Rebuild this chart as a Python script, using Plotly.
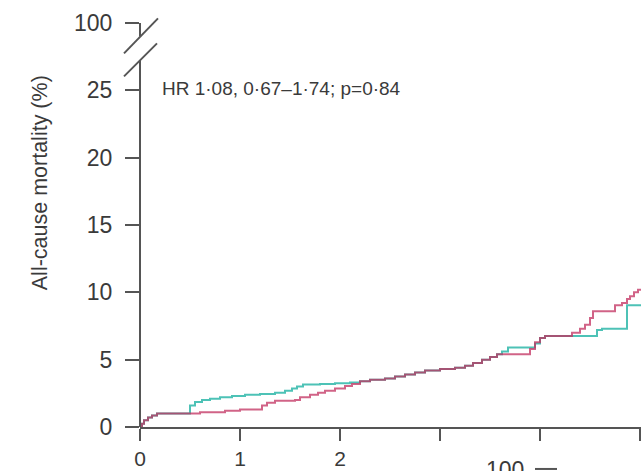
import plotly.graph_objects as go

# Time (years) and cumulative all-cause mortality (%)
teal_t = [0, 0.02, 0.04, 0.08, 0.12, 0.17, 0.5, 0.55, 0.62, 0.7, 0.8, 0.92, 1.05, 1.2, 1.35,
          1.45, 1.52, 1.57, 1.63, 1.8, 1.95, 2.1, 2.2, 2.3, 2.45, 2.55, 2.65, 2.75, 2.85,
          3.0, 3.15, 3.25, 3.33, 3.42, 3.5, 3.57, 3.62, 3.68, 3.95, 4.0, 4.05, 4.57, 4.62,
          4.87, 5.02]
teal_v = [0, 0.25, 0.5, 0.7, 0.85, 1.0, 1.6, 1.85, 2.0, 2.1, 2.2, 2.3, 2.4, 2.45, 2.55,
          2.7, 2.85, 3.0, 3.15, 3.2, 3.25, 3.3, 3.4, 3.5, 3.6, 3.75, 3.9, 4.05, 4.2,
          4.3, 4.4, 4.55, 4.75, 5.0, 5.2, 5.4, 5.6, 5.9, 6.2, 6.6, 6.75, 7.2, 7.3,
          9.05, 9.05]

red_t = [0, 0.02, 0.04, 0.08, 0.12, 0.17, 0.6, 0.85, 1.0, 1.22, 1.27, 1.35, 1.55, 1.6,
         1.7, 1.78, 1.85, 1.95, 2.05, 2.12, 2.2, 2.3, 2.45, 2.55, 2.65, 2.75, 2.85, 3.0,
         3.15, 3.25, 3.33, 3.42, 3.5, 3.57, 3.9, 3.95, 4.0, 4.05, 4.32, 4.4, 4.45, 4.5,
         4.53, 4.75, 4.82, 4.87, 4.9, 4.94, 4.98, 5.02]
red_v = [0, 0.25, 0.5, 0.7, 0.85, 1.0, 1.1, 1.2, 1.3, 1.6, 1.8, 1.95, 2.0, 2.2,
         2.4, 2.55, 2.7, 2.85, 3.05, 3.2, 3.4, 3.5, 3.6, 3.75, 3.9, 4.05, 4.2, 4.3,
         4.4, 4.55, 4.75, 5.0, 5.2, 5.4, 5.8, 6.3, 6.6, 6.75, 7.0, 7.3, 7.6, 8.1,
         8.6, 9.05, 9.2, 9.5, 9.7, 10.0, 10.2, 10.2]

x_ticks = [0, 1, 2, 3, 4, 5]
x_ticktext = ["0", "1", "2", "", "", ""]
y_ticks = [0, 5, 10, 15, 20, 25, 30]
y_ticktext = ["0", "5", "10", "15", "20", "25", "100"]

FONT = "Liberation Sans, Arial, sans-serif"
AX = "#555555"
TXT = "#3a3a3a"

fig = go.Figure()
fig.add_trace(go.Scatter(x=teal_t, y=teal_v, mode="lines", line=dict(shape="hv", color="#2fb8aa", width=2),
                         opacity=0.85, showlegend=False))
fig.add_trace(go.Scatter(x=red_t, y=red_v, mode="lines", line=dict(shape="hv", color="#c2305f", width=2),
                         opacity=0.75, showlegend=False))

W, H = 641, 471
L, R, T, B = 140, 0, 22.6, 44
pw, ph = W - L - R, H - T - B

def px(x):
    return (x - L) / pw

def py(y):
    return (H - B - y) / ph

shapes = [
    # broken y axis
    dict(type="line", xref="paper", yref="paper", x0=0, x1=0, y0=0, y1=py(60), line=dict(color=AX, width=2)),
    dict(type="line", xref="paper", yref="paper", x0=0, x1=0, y0=py(36), y1=1, line=dict(color=AX, width=2)),
    dict(type="line", xref="paper", yref="paper", x0=px(124), x1=px(158), y0=py(53), y1=py(18), line=dict(color=AX, width=2)),
    dict(type="line", xref="paper", yref="paper", x0=px(124), x1=px(157), y0=py(76), y1=py(43), line=dict(color=AX, width=2)),
    # partial next panel axis mark at bottom
    dict(type="line", xref="paper", yref="paper", x0=px(535), x1=px(557), y0=py(469), y1=py(469), line=dict(color=AX, width=2)),
]

annotations = [
    dict(text="HR 1·08, 0·67–1·74; p=0·84", xref="paper", yref="paper", x=px(160), y=py(88),
         xanchor="left", yanchor="middle", showarrow=False, font=dict(family=FONT, size=19, color=TXT)),
    dict(text="All-cause mortality (%)", xref="paper", yref="paper", x=px(40), y=py(183),
         xanchor="center", yanchor="middle", textangle=-90, showarrow=False,
         font=dict(family=FONT, size=21.5, color=TXT)),
    dict(text="100", xref="paper", yref="paper", x=px(505), y=py(455),
         xanchor="center", yanchor="top", showarrow=False, font=dict(family=FONT, size=23, color=TXT)),
]

fig.update_layout(
    width=W, height=H,
    margin=dict(l=L, r=R, t=T, b=B, pad=0),
    paper_bgcolor="white", plot_bgcolor="white",
    shapes=shapes, annotations=annotations,
    font=dict(family=FONT, size=23, color=TXT),
    xaxis=dict(range=[0, 5.01], tickvals=x_ticks, ticktext=x_ticktext, showgrid=False, zeroline=False,
               showline=True, linecolor=AX, linewidth=2, ticks="outside", ticklen=12, tickwidth=2,
               tickcolor=AX, automargin=False, fixedrange=True, tickfont=dict(size=21)),
    yaxis=dict(range=[0, 30], tickvals=y_ticks, ticktext=y_ticktext, showgrid=False, zeroline=False,
               showline=False, ticks="outside", ticklen=14, tickwidth=2, tickcolor=AX,
               automargin=False, fixedrange=True, tickfont=dict(size=23), ticklabelstandoff=8),
)

fig.write_html("out.html")
